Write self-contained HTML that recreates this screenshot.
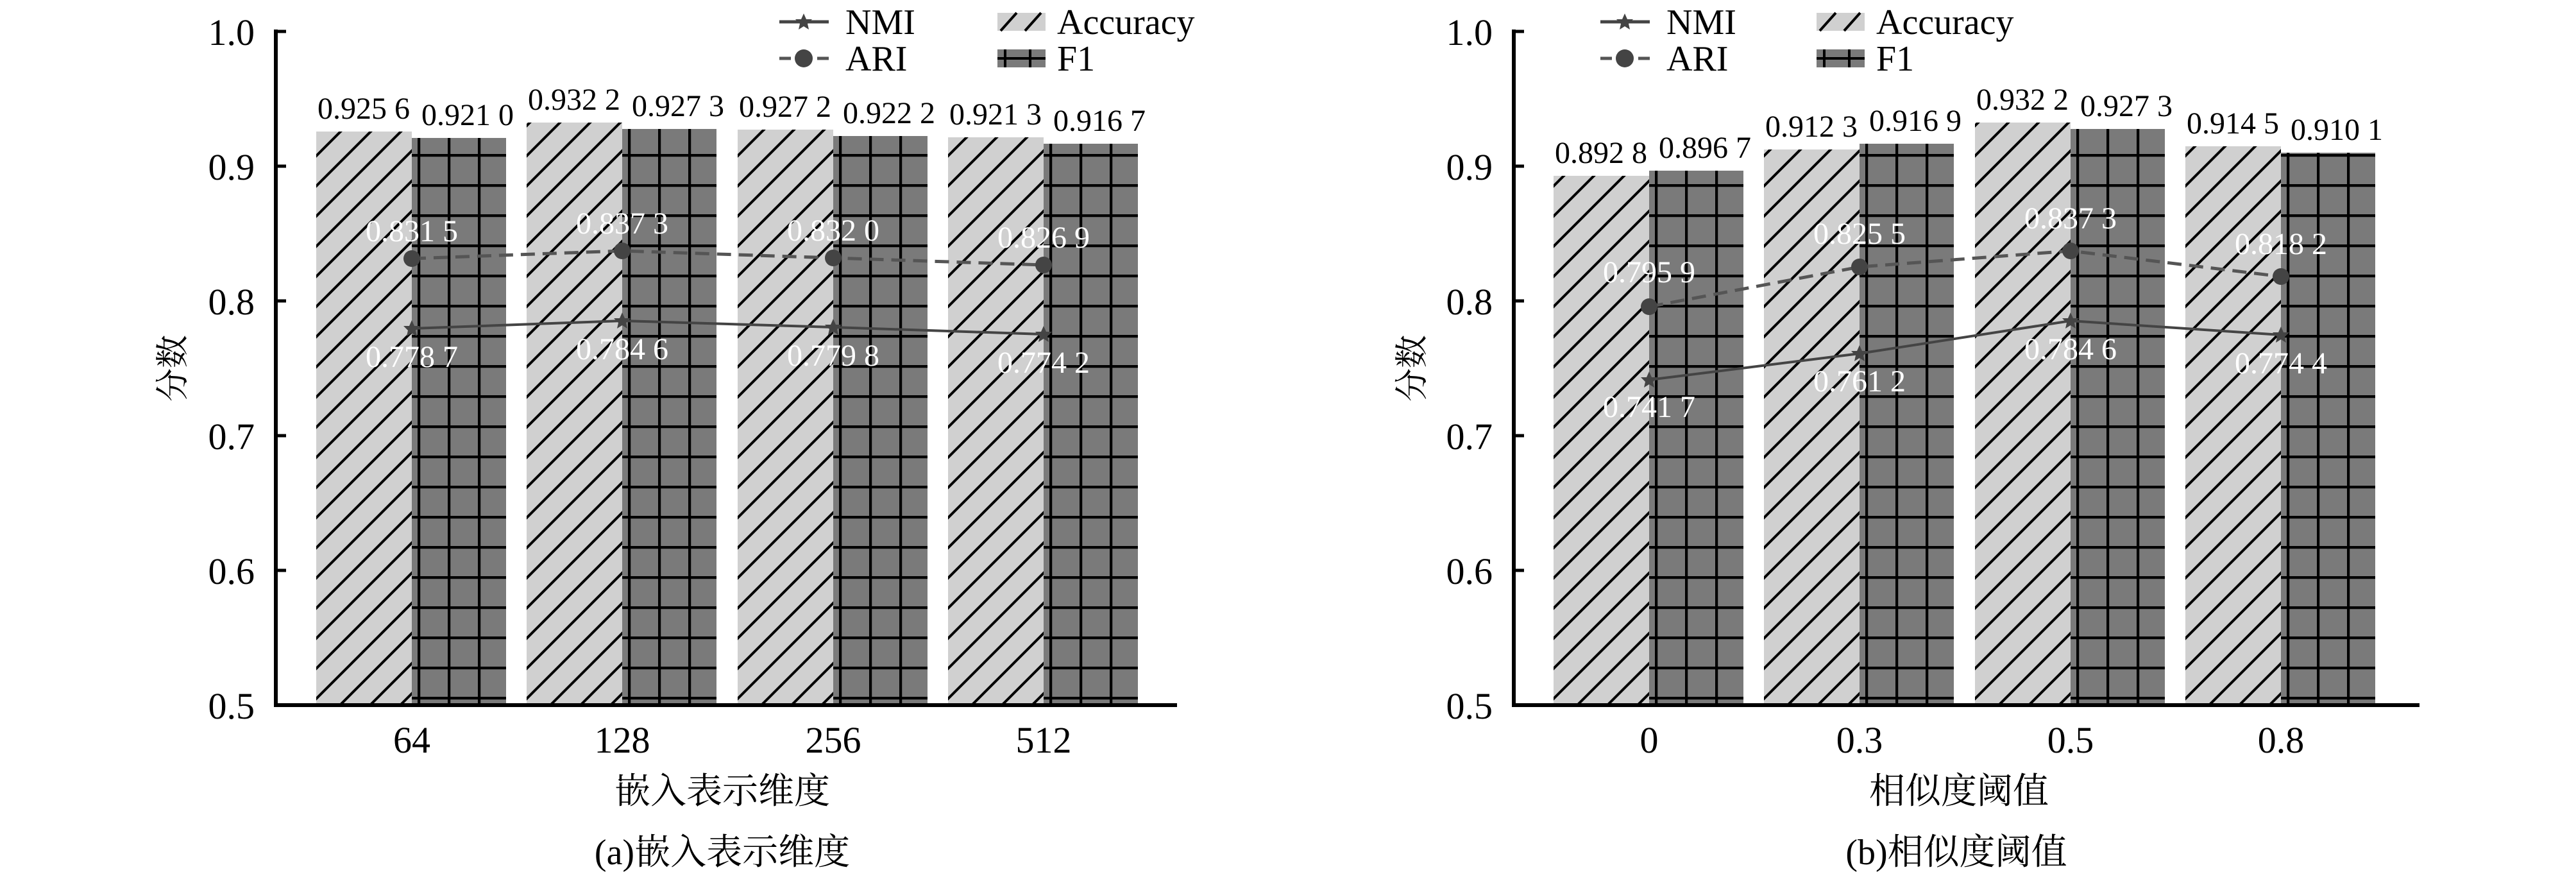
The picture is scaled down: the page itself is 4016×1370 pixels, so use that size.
<!DOCTYPE html>
<html><head><meta charset="utf-8"><style>
html,body{margin:0;padding:0;background:#fff;}
svg{display:block;}
</style></head><body>
<svg width="4016" height="1370" viewBox="0 0 4016 1370" xmlns="http://www.w3.org/2000/svg" font-family="'Liberation Serif','DejaVu Serif','Noto Serif CJK SC',serif">
<defs>
<pattern id="hat" patternUnits="userSpaceOnUse" width="47" height="47">
<rect width="47" height="47" fill="#d0d0d0"/>
<path d="M-5,52 L52,-5 M-10,10 L10,-10 M37,57 L57,37" stroke="#000" stroke-width="4"/>
</pattern>
<pattern id="grd" patternUnits="userSpaceOnUse" x="9" y="5" width="47" height="47">
<rect width="47" height="47" fill="#7a7a7a"/>
<path d="M2,0 V47 M0,2 H47" stroke="#000" stroke-width="4.5"/>
</pattern>
<g id="star"><path d="M0,-13 L4,-4 L13,-4 L6,3 L8,12 L0,7 L-8,12 L-6,3 L-13,-4 L-4,-4 Z" fill="#444"/></g>
</defs>

<g>
<g transform="translate(642,0)">
<rect x="-149" y="205" width="149" height="894" fill="url(#hat)"/>
<rect x="0" y="215" width="147" height="884" fill="url(#grd)"/>
<text x="-75" y="185" font-size="48" text-anchor="middle">0.925 6</text>
<text x="87" y="195" font-size="48" text-anchor="middle">0.921 0</text>
</g>
<g transform="translate(970,0)">
<rect x="-149" y="191" width="149" height="908" fill="url(#hat)"/>
<rect x="0" y="201" width="147" height="898" fill="url(#grd)"/>
<text x="-75" y="171" font-size="48" text-anchor="middle">0.932 2</text>
<text x="87" y="181" font-size="48" text-anchor="middle">0.927 3</text>
</g>
<g transform="translate(1299,0)">
<rect x="-149" y="202" width="149" height="897" fill="url(#hat)"/>
<rect x="0" y="212" width="147" height="887" fill="url(#grd)"/>
<text x="-75" y="182" font-size="48" text-anchor="middle">0.927 2</text>
<text x="87" y="192" font-size="48" text-anchor="middle">0.922 2</text>
</g>
<g transform="translate(1627,0)">
<rect x="-149" y="214" width="149" height="885" fill="url(#hat)"/>
<rect x="0" y="224" width="147" height="875" fill="url(#grd)"/>
<text x="-75" y="194" font-size="48" text-anchor="middle">0.921 3</text>
<text x="87" y="204" font-size="48" text-anchor="middle">0.916 7</text>
</g>
<polyline points="642,403 970,391 1299,402 1627,413" fill="none" stroke="#555" stroke-width="5" stroke-dasharray="22,12"/>
<circle cx="642" cy="403" r="13" fill="#444"/><circle cx="970" cy="391" r="13" fill="#444"/><circle cx="1299" cy="402" r="13" fill="#444"/><circle cx="1627" cy="413" r="13" fill="#444"/>
<polyline points="642,512 970,500 1299,510 1627,521" fill="none" stroke="#444" stroke-width="4"/>
<use href="#star" x="642" y="512"/><use href="#star" x="970" y="500"/><use href="#star" x="1299" y="510"/><use href="#star" x="1627" y="521"/>
<g fill="#fff" font-size="48" text-anchor="middle">
<text x="642" y="376">0.831 5</text><text x="970" y="364">0.837 3</text><text x="1299" y="375">0.832 0</text><text x="1627" y="386">0.826 9</text>
<text x="642" y="572">0.778 7</text><text x="970" y="560">0.784 6</text><text x="1299" y="570">0.779 8</text><text x="1627" y="581">0.774 2</text>
</g>
<path d="M430,46 V1099 H1835" fill="none" stroke="#000" stroke-width="6"/>
<path d="M430,49 H446 M430,259 H446 M430,469 H446 M430,679 H446 M430,889 H446" stroke="#000" stroke-width="5"/>
<g font-size="58" text-anchor="end">
<text x="397" y="70">1.0</text><text x="397" y="280">0.9</text><text x="397" y="490">0.8</text><text x="397" y="700">0.7</text><text x="397" y="910">0.6</text><text x="397" y="1120">0.5</text>
</g>
<g font-size="58" text-anchor="middle">
<text x="642" y="1173">64</text><text x="970" y="1173">128</text><text x="1299" y="1173">256</text><text x="1627" y="1173">512</text>
</g>
<text font-family="'Noto Serif CJK SC',serif" x="0" y="0" font-size="52" text-anchor="middle" transform="translate(287,574) rotate(-90)">分数</text>
<text font-family="'Noto Serif CJK SC',serif" x="1126" y="1252" font-size="56" text-anchor="middle">嵌入表示维度</text>
<text x="1126" y="1347" font-size="56" text-anchor="middle">(a)<tspan font-family="'Noto Serif CJK SC',serif">嵌入表示维度</tspan></text>
<line x1="1215" y1="34" x2="1292" y2="34" stroke="#444" stroke-width="5"/><use href="#star" x="1253" y="34"/>
<text x="1318" y="53" font-size="56">NMI</text>
<line x1="1215" y1="91" x2="1233" y2="91" stroke="#555" stroke-width="5"/><line x1="1274" y1="91" x2="1292" y2="91" stroke="#555" stroke-width="5"/><circle cx="1253" cy="91" r="14" fill="#444"/>
<text x="1318" y="110" font-size="56">ARI</text>
<rect x="1555" y="20" width="75" height="28" fill="#d0d0d0"/><path d="M1560,48 L1585,20 M1598,48 L1623,20" stroke="#000" stroke-width="4"/>
<text x="1648" y="53" font-size="56">Accuracy</text>
<rect x="1555" y="77" width="75" height="28" fill="#7a7a7a"/><path d="M1555,91 H1630 M1567,77 V105 M1606,77 V105" stroke="#000" stroke-width="4"/>
<text x="1648" y="110" font-size="56">F1</text>
</g>

<g>
<g transform="translate(2571,0)">
<rect x="-149" y="274" width="149" height="825" fill="url(#hat)"/>
<rect x="0" y="266" width="147" height="833" fill="url(#grd)"/>
<text x="-75" y="254" font-size="48" text-anchor="middle">0.892 8</text>
<text x="87" y="246" font-size="48" text-anchor="middle">0.896 7</text>
</g>
<g transform="translate(2899,0)">
<rect x="-149" y="233" width="149" height="866" fill="url(#hat)"/>
<rect x="0" y="224" width="147" height="875" fill="url(#grd)"/>
<text x="-75" y="213" font-size="48" text-anchor="middle">0.912 3</text>
<text x="87" y="204" font-size="48" text-anchor="middle">0.916 9</text>
</g>
<g transform="translate(3228,0)">
<rect x="-149" y="191" width="149" height="908" fill="url(#hat)"/>
<rect x="0" y="201" width="147" height="898" fill="url(#grd)"/>
<text x="-75" y="171" font-size="48" text-anchor="middle">0.932 2</text>
<text x="87" y="181" font-size="48" text-anchor="middle">0.927 3</text>
</g>
<g transform="translate(3556,0)">
<rect x="-149" y="228" width="149" height="871" fill="url(#hat)"/>
<rect x="0" y="238" width="147" height="861" fill="url(#grd)"/>
<text x="-75" y="208" font-size="48" text-anchor="middle">0.914 5</text>
<text x="87" y="218" font-size="48" text-anchor="middle">0.910 1</text>
</g>
<polyline points="2571,478 2899,416 3228,391 3556,431" fill="none" stroke="#555" stroke-width="5" stroke-dasharray="22,12"/>
<circle cx="2571" cy="478" r="13" fill="#444"/><circle cx="2899" cy="416" r="13" fill="#444"/><circle cx="3228" cy="391" r="13" fill="#444"/><circle cx="3556" cy="431" r="13" fill="#444"/>
<polyline points="2571,592 2899,551 3228,500 3556,522" fill="none" stroke="#444" stroke-width="4"/>
<use href="#star" x="2571" y="592"/><use href="#star" x="2899" y="551"/><use href="#star" x="3228" y="500"/><use href="#star" x="3556" y="522"/>
<g fill="#fff" font-size="48" text-anchor="middle">
<text x="2571" y="440">0.795 9</text><text x="2899" y="380">0.825 5</text><text x="3228" y="356">0.837 3</text><text x="3556" y="396">0.818 2</text>
<text x="2571" y="650">0.741 7</text><text x="2899" y="610">0.761 2</text><text x="3228" y="560">0.784 6</text><text x="3556" y="582">0.774 4</text>
</g>
<path d="M2360,46 V1099 H3772" fill="none" stroke="#000" stroke-width="6"/>
<path d="M2360,49 H2376 M2360,259 H2376 M2360,469 H2376 M2360,679 H2376 M2360,889 H2376" stroke="#000" stroke-width="5"/>
<g font-size="58" text-anchor="end">
<text x="2327" y="70">1.0</text><text x="2327" y="280">0.9</text><text x="2327" y="490">0.8</text><text x="2327" y="700">0.7</text><text x="2327" y="910">0.6</text><text x="2327" y="1120">0.5</text>
</g>
<g font-size="58" text-anchor="middle">
<text x="2571" y="1173">0</text><text x="2899" y="1173">0.3</text><text x="3228" y="1173">0.5</text><text x="3556" y="1173">0.8</text>
</g>
<text font-family="'Noto Serif CJK SC',serif" x="0" y="0" font-size="52" text-anchor="middle" transform="translate(2219,574) rotate(-90)">分数</text>
<text font-family="'Noto Serif CJK SC',serif" x="3054" y="1252" font-size="56" text-anchor="middle">相似度阈值</text>
<text x="3050" y="1347" font-size="56" text-anchor="middle">(b)<tspan font-family="'Noto Serif CJK SC',serif">相似度阈值</tspan></text>
<line x1="2495" y1="34" x2="2572" y2="34" stroke="#444" stroke-width="5"/><use href="#star" x="2533" y="34"/>
<text x="2598" y="53" font-size="56">NMI</text>
<line x1="2495" y1="91" x2="2513" y2="91" stroke="#555" stroke-width="5"/><line x1="2554" y1="91" x2="2572" y2="91" stroke="#555" stroke-width="5"/><circle cx="2533" cy="91" r="14" fill="#444"/>
<text x="2598" y="110" font-size="56">ARI</text>
<rect x="2832" y="20" width="75" height="28" fill="#d0d0d0"/><path d="M2837,48 L2862,20 M2875,48 L2900,20" stroke="#000" stroke-width="4"/>
<text x="2925" y="53" font-size="56">Accuracy</text>
<rect x="2832" y="77" width="75" height="28" fill="#7a7a7a"/><path d="M2832,91 H2907 M2844,77 V105 M2883,77 V105" stroke="#000" stroke-width="4"/>
<text x="2925" y="110" font-size="56">F1</text>
</g>
</svg>
</body></html>
